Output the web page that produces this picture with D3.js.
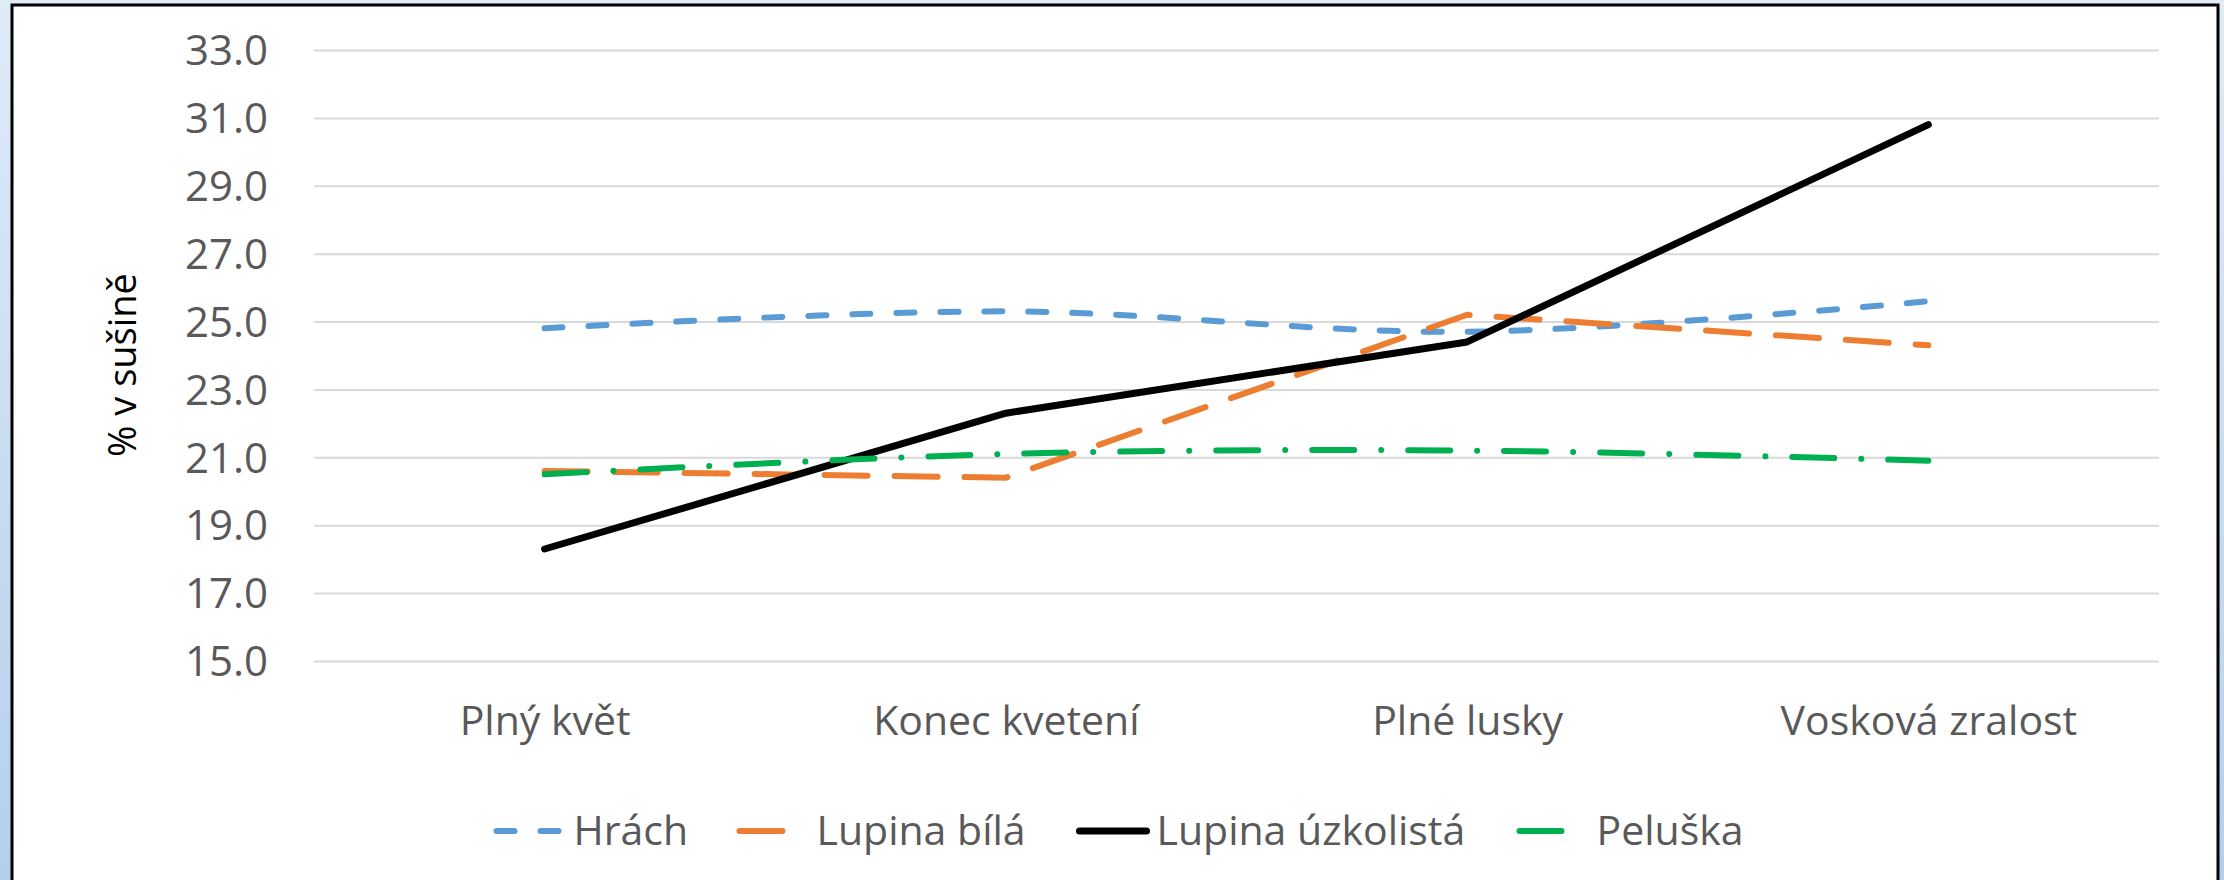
<!DOCTYPE html>
<html>
<head>
<meta charset="utf-8">
<script src="https://cdn.jsdelivr.net/npm/d3@7"></script>
<style>
  body { margin: 0; background: #fff; }
  text { font-family: "Open Sans", sans-serif; }
</style>
</head>
<body>
<div id="viz"></div>
<script>
// data
const categories = ["Plný květ", "Konec kvetení", "Plné lusky", "Vosková zralost"];
const hrach = [24.8, 25.3, 24.7, 25.6];
const lupinaBila = [20.6, 20.4, 25.2, 24.3];
const lupinaUzkolista = [18.3, 22.3, 24.4, 30.8];
const peluska = [20.5, 21.1, 21.2, 20.9];
const yTicks = [15, 17, 19, 21, 23, 25, 27, 29, 31, 33];
const seriesNames = ["Hrách", "Lupina bílá", "Lupina úzkolistá", "Peluška"];

const W = 2224, H = 880;
const plot = {left: 314, right: 2159, top: 50, bottom: 661};

const series = [
  {name: seriesNames[0], values: hrach, color: "#5B9BD5", dash: "18,26", width: 6, smooth: true},
  {name: seriesNames[1], values: lupinaBila, color: "#ED7D31", dash: "43,27", width: 6, smooth: false},
  {name: seriesNames[2], values: lupinaUzkolista, color: "#000000", dash: null, width: 7, smooth: false},
  {name: seriesNames[3], values: peluska, color: "#00B050", dash: "42,27,0.01,27", width: 6, smooth: true}
];

const svg = d3.select("#viz")
    .append("svg")
    .attr("width", W)
    .attr("height", H);

// 1. Background + frame
const grad = svg.append("defs").append("linearGradient")
    .attr("id", "bg").attr("x1", 0).attr("y1", 0).attr("x2", 0).attr("y2", 1);
grad.append("stop").attr("offset", "0%").attr("stop-color", "#DFEBF7");
grad.append("stop").attr("offset", "100%").attr("stop-color", "#B4CFEC");

svg.append("rect").attr("width", W).attr("height", H).attr("fill", "url(#bg)");
svg.append("rect")
    .attr("x", 12).attr("y", 5)
    .attr("width", 2206).attr("height", 920)
    .attr("fill", "#fff")
    .attr("stroke", "#000")
    .attr("stroke-width", 3);

// 2. Scales
const x = d3.scalePoint()
    .domain(categories)
    .range([plot.left, plot.right])
    .padding(0.5);

const y = d3.scaleLinear()
    .domain([15, 33])
    .range([plot.bottom, plot.top]);

// 3. Axes
const yAxis = svg.append("g")
    .attr("transform", `translate(${plot.left},0)`)
    .call(d3.axisLeft(y)
        .tickValues(yTicks)
        .tickFormat(d3.format(".1f"))
        .tickSizeInner(-(plot.right - plot.left))
        .tickSizeOuter(0)
        .tickPadding(46));
yAxis.select(".domain").remove();
yAxis.selectAll(".tick line").attr("stroke", "#D9D9D9").attr("stroke-width", 2);
yAxis.selectAll(".tick text")
    .attr("fill", "#595959")
    .attr("font-size", 42)
    .attr("dy", "0.35em");

const xAxis = svg.append("g")
    .attr("transform", `translate(0,${plot.bottom})`)
    .call(d3.axisBottom(x).tickSize(0).tickPadding(45));
xAxis.select(".domain").remove();
xAxis.selectAll(".tick text")
    .attr("fill", "#595959")
    .attr("font-size", 41);

// y title
svg.append("text")
    .attr("transform", "translate(121,365) rotate(-90)")
    .attr("text-anchor", "middle")
    .attr("dominant-baseline", "central")
    .attr("font-size", 38)
    .attr("fill", "#000")
    .text("% v sušině");

// 4. Lines
const lineStraight = d3.line()
    .x((d, i) => x(categories[i]))
    .y(d => y(d));
const lineSmooth = d3.line()
    .x((d, i) => x(categories[i]))
    .y(d => y(d))
    .curve(d3.curveCardinal.tension(0));

svg.selectAll(".line")
    .data(series)
    .enter().append("path")
    .attr("class", "line")
    .attr("d", d => (d.smooth ? lineSmooth : lineStraight)(d.values))
    .style("fill", "none")
    .style("stroke", d => d.color)
    .style("stroke-width", d => d.width)
    .style("stroke-linecap", "round")
    .style("stroke-linejoin", "round")
    .style("stroke-dasharray", d => d.dash);

// 5. Legend
const textW = [114, 211, 311, 148];
const swatchArea = 80, entryGap = 49;
const legendTotal = d3.sum(textW) + series.length * swatchArea + (series.length - 1) * entryGap;
let lx = 1119 - legendTotal / 2;
const legendY = 831;

series.forEach((s, i) => {
  const g = svg.append("g").attr("class", "legend-item");
  g.append("line")
      .attr("x1", lx + 3).attr("x2", lx + 70)
      .attr("y1", legendY).attr("y2", legendY)
      .attr("stroke", s.color)
      .attr("stroke-width", s.width)
      .attr("stroke-linecap", "round")
      .attr("stroke-dasharray", s.dash);
  g.append("text")
      .attr("x", lx + swatchArea)
      .attr("y", legendY)
      .attr("dy", "0.35em")
      .attr("font-size", 41)
      .attr("fill", "#595959")
      .text(s.name);
  lx += swatchArea + textW[i] + entryGap;
});
</script>
</body>
</html>
